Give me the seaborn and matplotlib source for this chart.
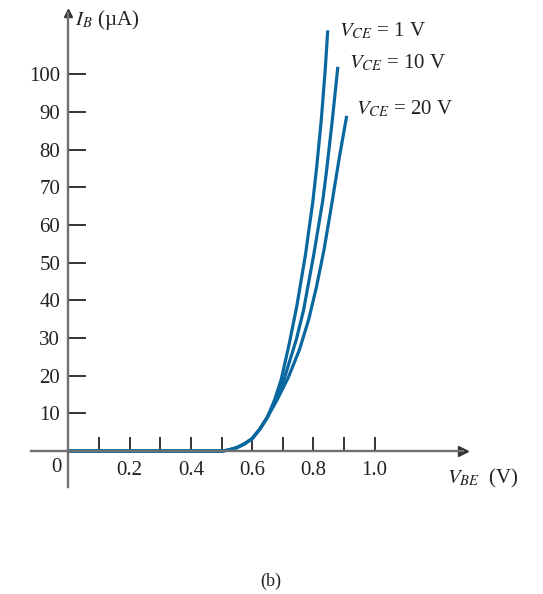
import numpy as np
import pandas as pd
import seaborn as sns
import matplotlib.pyplot as plt

# common part of the input characteristic (all three curves overlap here)
vbe_common = [0.0, 0.1, 0.2, 0.3, 0.4, 0.5, 0.52, 0.55, 0.575, 0.6, 0.625, 0.65]
ib_common = [0.0, 0.0, 0.0, 0.0, 0.0, 0.0, 0.2, 0.9, 1.9, 3.3, 5.8, 9.0]

# upper parts
vbe_1v = [0.673, 0.695, 0.720, 0.746, 0.774, 0.798, 0.811, 0.826, 0.839, 0.847]
ib_1v = [13.5, 19.0, 28.0, 38.5, 52.0, 66.0, 75.5, 88.0, 101.5, 111.7]
vbe_10v = [0.677, 0.706, 0.744, 0.768, 0.801, 0.831, 0.844, 0.862, 0.880]
ib_10v = [13.5, 19.5, 29.5, 37.4, 52.0, 66.6, 75.0, 87.9, 102.0]
vbe_20v = [0.681, 0.718, 0.755, 0.785, 0.810, 0.835, 0.860, 0.885, 0.909]
ib_20v = [13.5, 19.5, 27.0, 35.0, 43.5, 53.5, 65.5, 78.0, 89.0]

curve_names = ['1 V', '10 V', '20 V']
x_ticks = [0.1, 0.2, 0.3, 0.4, 0.5, 0.6, 0.7, 0.8, 0.9, 1.0]
x_ticklabels = ['', '0.2', '', '0.4', '', '0.6', '', '0.8', '', '1.0']
y_ticks = [10, 20, 30, 40, 50, 60, 70, 80, 90, 100]

rows = []
for name, vs, ib in zip(curve_names, [vbe_1v, vbe_10v, vbe_20v], [ib_1v, ib_10v, ib_20v]):
    for v, i in zip(vbe_common + vs, ib_common + ib):
        rows.append({'VBE': v, 'IB': i, 'VCE': name})
df = pd.DataFrame(rows)

sns.set_theme(style='white')
plt.rcParams['font.family'] = ['Liberation Serif', 'DejaVu Serif']
plt.rcParams['mathtext.fontset'] = 'stix'

blue = '#0a68a0'
txt = '#222222'
axis_col = '#707070'

fig = plt.figure(figsize=(5.43, 5.94), dpi=100)
ax = fig.add_axes([0.0571, 0.1801, 0.7956, 0.798])

sns.lineplot(data=df, x='VBE', y='IB', hue='VCE', palette=[blue] * 3,
             estimator=None, sort=False, linewidth=2.3, legend=False, ax=ax,
             solid_joinstyle='round', solid_capstyle='butt')

ax.set_xlim(-0.1225, 1.289)
ax.set_ylim(-9.56, 116.3)

for s in ['top', 'right']:
    ax.spines[s].set_visible(False)
for s in ['left', 'bottom']:
    ax.spines[s].set_position('zero')
    ax.spines[s].set_color(axis_col)
    ax.spines[s].set_linewidth(1.7)

# arrow heads
ax.plot(1, 0, '>', color='#333333', ms=7, transform=ax.get_yaxis_transform(), clip_on=False)
ax.plot(0, 1, '^', color='#333333', ms=6, transform=ax.get_xaxis_transform(), clip_on=False)

ax.set_xticks(x_ticks)
ax.set_xticklabels(x_ticklabels)
ax.set_yticks(y_ticks)
ax.set_yticklabels([str(t) for t in y_ticks])
ax.tick_params(axis='y', direction='in', length=13, width=1.4, color='#333333',
               pad=6, labelsize=15, labelcolor=txt, left=True)
ax.tick_params(axis='x', direction='in', length=10, width=1.4, color='#333333',
               pad=7, labelsize=15, labelcolor=txt, bottom=True)
ax.set_xlabel('')
ax.set_ylabel('')

ax.text(-0.038, -4.5, '0', ha='center', va='center', fontsize=15, color=txt)
ax.text(0.021, 114.4, r'$I_B$ (µA)', ha='left', va='center', fontsize=15, color=txt)
ax.text(1.237, -7.2, r'$V_{BE}$  (V)', ha='left', va='center', fontsize=15, color=txt)
ax.text(0.884, 111.5, r'$V_{CE}$ = 1 V', ha='left', va='center', fontsize=15, color=txt)
ax.text(0.917, 103.0, r'$V_{CE}$ = 10 V', ha='left', va='center', fontsize=15, color=txt)
ax.text(0.940, 90.8, r'$V_{CE}$ = 20 V', ha='left', va='center', fontsize=15, color=txt)

fig.text(0.499, 0.022, '(b)', ha='center', va='center', fontsize=13, color=txt)

plt.savefig('out.png', dpi=100)
